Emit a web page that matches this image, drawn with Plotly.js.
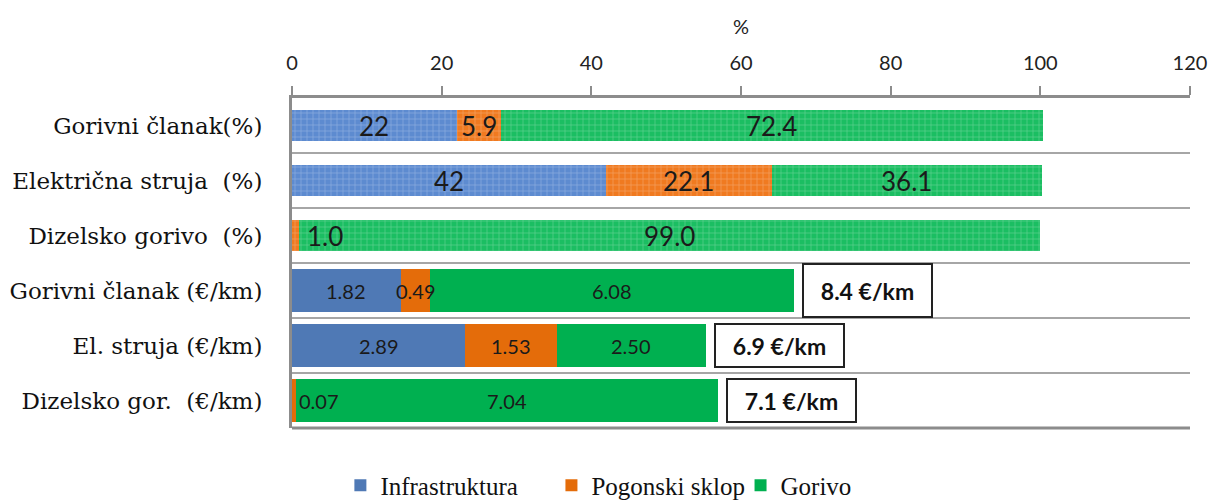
<!DOCTYPE html>
<html>
<head>
<meta charset="utf-8">
<script src="https://cdn.plot.ly/plotly-3.0.1.min.js"></script>
<style>html,body{margin:0;padding:0;background:#fff;}#chart{width:1220px;height:500px;}</style>
</head>
<body>
<div id="chart"></div>
<script>
// ---- data ----
const categoriesPct = ['Gorivni članak(%)', 'Električna struja\u00a0 (%)', 'Dizelsko gorivo\u00a0 (%)'];
const categoriesCost = ['Gorivni članak (€/km)', 'El. struja (€/km)', 'Dizelsko gor.\u00a0 (€/km)'];
const seriesNames = ['Infrastruktura', 'Pogonski sklop', 'Gorivo'];
const infraPct = [22, 42, 0];
const pogonPct = [5.9, 22.1, 1.0];
const gorivoPct = [72.4, 36.1, 99.0];
const infraCost = [1.82, 2.89, 0];
const pogonCost = [0.49, 1.53, 0.07];
const gorivoCost = [6.08, 2.50, 7.04];
const totalCostLabels = ['8.4 €/km', '6.9 €/km', '7.1 €/km'];
const costScale = 8; // €/km rows are drawn on the % axis at 8x
const xTicks = [0, 20, 40, 60, 80, 100, 120];

// ---- styles ----
const colors = ['#4F79B5', '#E46C0A', '#00B050'];
const patColors = ['#5D8BD0', '#F07A20', '#1BBE62'];
const serif = 'DejaVu Serif, serif';
const legendSerif = 'Liberation Serif, serif';
const sans = 'Lato, sans-serif';
const allCats = categoriesPct.concat(categoriesCost);

const pctSeries = [infraPct, pogonPct, gorivoPct];
const costSeries = [infraCost, pogonCost, gorivoCost];
const legendIds = ['legend', 'legend2', 'legend3'];

const traces = [];
pctSeries.forEach((vals, i) => {
  traces.push({
    type: 'bar', orientation: 'h', y: categoriesPct, x: vals,
    name: seriesNames[i], showlegend: false, width: 0.58,
    marker: {color: patColors[i], line: {width: 0},
      pattern: {shape: '+', fillmode: 'overlay', bgcolor: patColors[i], fgcolor: 'rgba(255,255,255,0.6)', size: 6, solidity: 0.2}},
    hoverinfo: 'x+name'
  });
});
costSeries.forEach((vals, i) => {
  traces.push({
    type: 'bar', orientation: 'h', y: categoriesCost, x: vals.map(v => v * costScale),
    name: seriesNames[i], showlegend: true, legend: legendIds[i], width: 0.77,
    marker: {color: colors[i], line: {width: 0}},
    hoverinfo: 'name'
  });
});

// ---- value labels (annotations at segment centres) ----
const annotations = [];
const labelShift = {'2-1': 13, '2-1c': 5}; // small-segment label offsets (px)
function addLabels(series, cats, scale, fmt, size, isCost) {
  cats.forEach((cat, r) => {
    let cum = 0;
    series.forEach((vals, s) => {
      const v = vals[r];
      const start = cum * scale;
      cum += v;
      if (v === 0) return;
      const key = r + '-' + s + (isCost ? 'c' : '');
      const small = labelShift[key] !== undefined;
      annotations.push({
        x: small ? start : (start + v * scale / 2), y: cat, xref: 'x', yref: 'y',
        text: fmt(v, s), showarrow: false,
        xanchor: small ? 'left' : 'center', xshift: small ? labelShift[key] : 0,
        font: {family: sans, size: size, color: '#1a1a1a'}
      });
    });
  });
}
addLabels(pctSeries, categoriesPct, 1, (v, s) => s === 0 ? String(v) : v.toFixed(1), 26, false);
addLabels(costSeries, categoriesCost, costScale, (v) => v.toFixed(2), 20, true);

// totals boxes
categoriesCost.forEach((cat, r) => {
  const tot = infraCost[r] + pogonCost[r] + gorivoCost[r];
  annotations.push({
    x: tot * costScale, y: cat, xref: 'x', yref: 'y', xanchor: 'left', xshift: 8,
    text: '<b>' + totalCostLabels[r] + '</b>', showarrow: false,
    font: {family: sans, size: 23, color: '#111'},
    bordercolor: '#222', borderwidth: 2, borderpad: 0, bgcolor: '#fff',
    width: 127, height: r === 0 ? 51 : 41
  });
});

const legendBase = {orientation: 'h', xref: 'container', yref: 'container', yanchor: 'middle', y: 0.029,
  font: {family: legendSerif, size: 25, color: '#111'}, bgcolor: 'rgba(0,0,0,0)'};

const layout = {
  width: 1220, height: 500,
  margin: {l: 292, r: 30, t: 98, b: 72},
  paper_bgcolor: '#fff', plot_bgcolor: '#fff',
  barmode: 'stack', bargap: 0.2,
  xaxis: {
    side: 'top', range: [0, 120], tickvals: xTicks, ticks: 'outside', ticklen: 9, tickwidth: 2,
    tickcolor: '#8c8c8c', showline: true, linecolor: '#8c8c8c', linewidth: 3, showgrid: false, zeroline: false,
    ticklabelstandoff: 8,
    tickfont: {family: sans, size: 20, color: '#222'},
    title: {text: '%', font: {family: sans, size: 20, color: '#222'}, standoff: 11}
  },
  yaxis: {
    type: 'category', categoryorder: 'array', categoryarray: allCats, autorange: 'reversed',
    tickson: 'boundaries', showgrid: true, gridcolor: '#a6a6a6', gridwidth: 2,
    showline: true, linecolor: '#8c8c8c', linewidth: 3, ticks: '', zeroline: false,
    ticklabelstandoff: 22,
    tickfont: {family: serif, size: 23, color: '#111'}
  },
  shapes: [{type: 'line', xref: 'paper', yref: 'paper', x0: 0, x1: 1, y0: 0, y1: 0, line: {color: '#8c8c8c', width: 3}}],
  legend: Object.assign({}, legendBase, {x: 0.279, xanchor: 'left'}),
  legend2: Object.assign({}, legendBase, {x: 0.452, xanchor: 'left'}),
  legend3: Object.assign({}, legendBase, {x: 0.607, xanchor: 'left'}),
  annotations: annotations
};

Plotly.newPlot('chart', traces, layout, {displayModeBar: false, staticPlot: true});
</script>
</body>
</html>
